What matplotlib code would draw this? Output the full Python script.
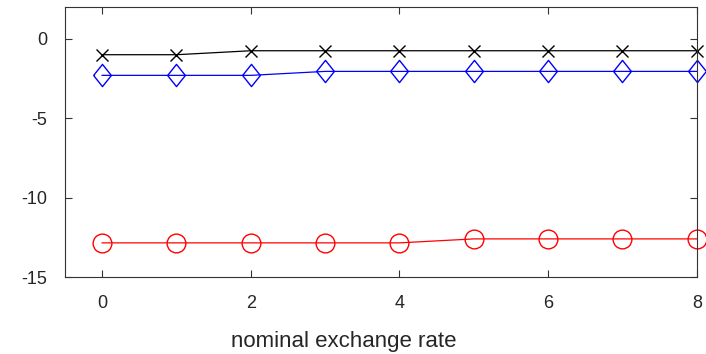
import numpy as np
import matplotlib
matplotlib.use("Agg")
from matplotlib import pyplot as plt

plt.rcParams['font.family'] = ['Liberation Sans', 'DejaVu Sans']
plt.rcParams['axes.unicode_minus'] = False

x = [0, 1, 2, 3, 4, 5, 6, 7, 8]
black_x = [-1.0, -1.0, -0.75, -0.75, -0.75, -0.75, -0.75, -0.75, -0.75]
blue_d = [-2.3, -2.3, -2.3, -2.05, -2.05, -2.05, -2.05, -2.05, -2.05]
red_o = [-12.85, -12.85, -12.85, -12.85, -12.85, -12.6, -12.6, -12.6, -12.6]

diamond = [(-0.8, 0), (0, 1), (0.8, 0), (0, -1), (-0.8, 0)]
txt = '#262626'

fig = plt.figure(figsize=(7.06, 3.54), dpi=100)
ax = fig.add_axes([0.092, 0.2175, 0.895, 0.7625])

ax.plot(x, black_x, color='black', lw=0.9, marker='x', ms=9, mew=1.0, clip_on=False)
ax.plot(x, blue_d, color='blue', lw=0.9, marker=diamond, ms=16, mfc='none', mec='blue',
        mew=1.0, clip_on=False)
ax.plot(x, red_o, color='red', lw=0.9, marker='o', ms=13.5, mfc='none', mec='red',
        mew=1.0, clip_on=False)

ax.set_xlim(-0.5, 8)
ax.set_ylim(-15, 2)
ax.set_xticks([0, 2, 4, 6, 8])
ax.set_yticks([-15, -10, -5, 0])
ax.tick_params(direction='in', top=True, right=True, length=5, width=0.8,
               labelsize=13, colors='#333333', labelcolor=txt, pad=13)
for s in ax.spines.values():
    s.set_color('#333333')
    s.set_linewidth(0.8)
ax.set_xlabel('nominal exchange rate', fontsize=16, color=txt)
ax.xaxis.set_label_coords(0.441, -0.2)

fig.savefig('out.png', dpi=100)
